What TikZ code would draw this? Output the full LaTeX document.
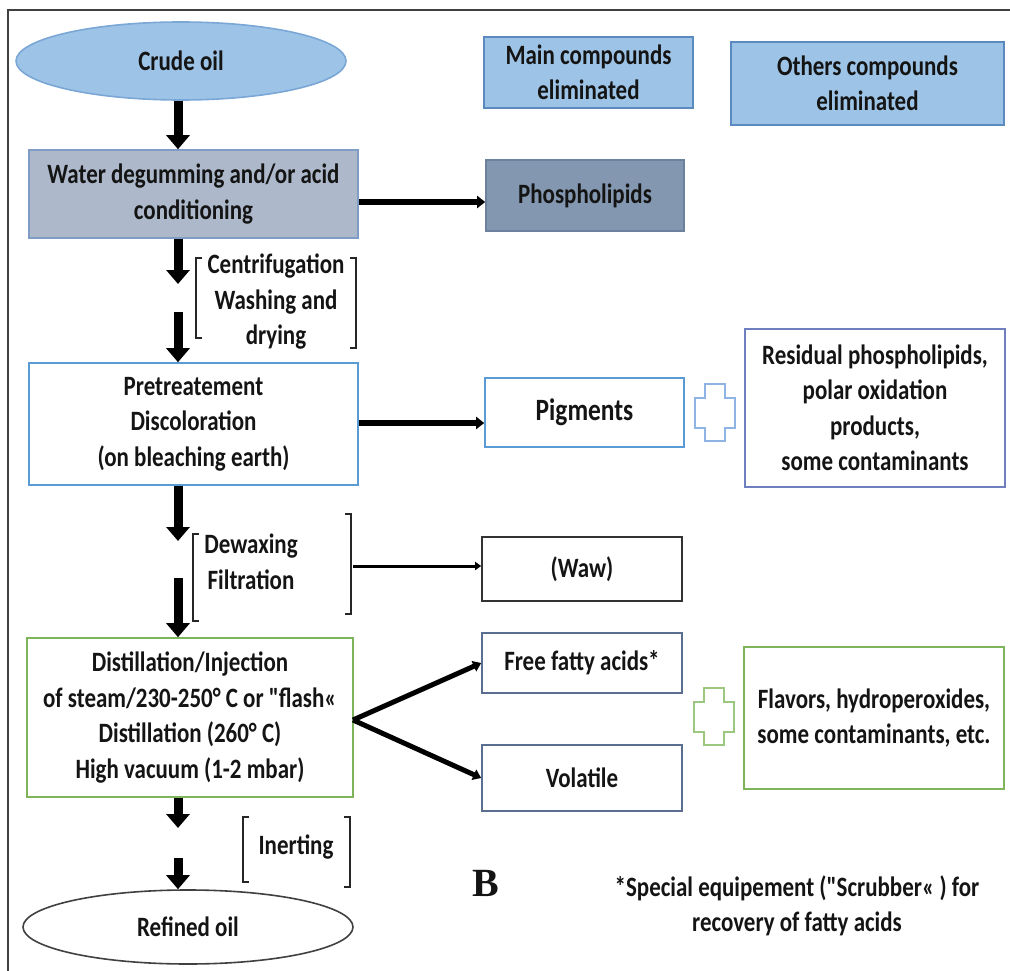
\documentclass[tikz,border=0pt]{standalone}
\usepackage{fontspec}
\setmainfont{Carlito}[FakeStretch=0.82, Ligatures=TeXOff]
\newfontfamily\serifbold{Liberation Serif}
\usetikzlibrary{shapes.geometric,arrows.meta,calc}
\definecolor{lblue}{HTML}{9DC3E6}
\definecolor{lblueedge}{HTML}{7BA7D7}
\definecolor{mblueedge}{HTML}{5A8AC0}
\definecolor{grayblue}{HTML}{ADB9CA}
\definecolor{grayblueedge}{HTML}{7E9CC6}
\definecolor{darkgb}{HTML}{8497B0}
\definecolor{darkgbedge}{HTML}{6C819E}
\definecolor{bluebord}{HTML}{5B9BD5}
\definecolor{plusblue}{HTML}{8DB4E2}
\definecolor{resedge}{HTML}{6F7FC0}
\definecolor{greenedge}{HTML}{7FB55A}
\definecolor{plusgreen}{HTML}{9CC77E}
\definecolor{slateedge}{HTML}{5A6F90}
\definecolor{txt}{HTML}{141414}
\newcommand\plusmark[3]{%
  \draw[#3, line width=2pt, fill=white]
    (#1-10,#2-28.5) -- (#1+10,#2-28.5) -- (#1+10,#2-15) -- (#1+20,#2-15)
    -- (#1+20,#2+15) -- (#1+10,#2+15) -- (#1+10,#2+28.5) -- (#1-10,#2+28.5)
    -- (#1-10,#2+15) -- (#1-20,#2+15) -- (#1-20,#2-15) -- (#1-10,#2-15) -- cycle;}
\begin{document}
\begin{tikzpicture}[x=1pt,y=-1pt,
  every node/.style={text=txt, font=\bfseries\fontsize{28}{35.5}\selectfont, align=center, inner sep=0pt},
  box/.style={draw, rectangle, line width=1.6pt},
  oval/.style={draw, ellipse, line width=1.6pt},
  bigarrow/.style={line width=9pt, -{Triangle[width=23pt,length=14pt]}},
  sidearrow/.style={line width=5.5pt, -{Triangle[width=12pt,length=8pt]}},
  forkarrow/.style={line width=5pt, -{Triangle[width=11pt,length=8pt]}},
  thinarrow/.style={line width=3pt, -{Triangle[width=8pt,length=6pt]}},
  brk/.style={draw=black!85, line width=1.5pt}
]
\useasboundingbox (0,0) rectangle (1010,971);
% frame
\draw[line width=2.5pt, black!75] (8,971) -- (8,10) -- (1010,10);

% nodes
\node[oval, fill=lblue, draw=lblueedge, minimum width=330, minimum height=78] (crude) at (181,61) {Crude oil};
\node[box, fill=lblue, draw=mblueedge, minimum width=209, minimum height=71] (main) at (588.5,72.5) {Main compounds\\eliminated};
\node[box, fill=lblue, draw=mblueedge, minimum width=273, minimum height=83] (others) at (867.5,83.5) {Others compounds\\eliminated};
\node[box, fill=grayblue, draw=grayblueedge, minimum width=329, minimum height=88] (water) at (193.5,194) {Water degumming and/or acid\\conditioning};
\node[box, fill=darkgb, draw=darkgbedge, minimum width=198, minimum height=71] (phospho) at (585,195.5) {Phospholipids};
\node[box, draw=bluebord, minimum width=329, minimum height=122] (pre) at (193.5,424) {Pretreatement\\Discoloration\\(on bleaching earth)};
\node[box, draw=bluebord, minimum width=199, minimum height=69, font=\bfseries\fontsize{31}{36}\selectfont] (pig) at (584.5,412.5) {Pigments};
\node[box, draw=resedge, minimum width=260, minimum height=158] (res) at (875,408) {Residual phospholipids,\\polar oxidation\\products,\\some contaminants};
\node[box, draw=black!80, minimum width=200, minimum height=64] (waw) at (582,569) {(Waw)};
\node[box, draw=greenedge, minimum width=326, minimum height=159] (dist) at (190,717.5) {Distillation/Injection\\of steam/230-250° C or "flash«\\Distillation (260° C)\\High vacuum (1-2 mbar)};
\node[box, draw=slateedge, minimum width=200, minimum height=60] (ffa) at (582,663) {Free fatty acids*};
\node[box, draw=slateedge, minimum width=200, minimum height=66] (vol) at (582,778) {Volatile};
\node[box, draw=greenedge, minimum width=260, minimum height=142] (flav) at (874,718) {Flavors, hydroperoxides,\\some contaminants, etc.};
\node[oval, draw=black!75, minimum width=330, minimum height=74] (refined) at (188,927) {Refined oil};

% bracket labels
\node (centri) at (276,302) {Centrifugation\\Washing and\\drying};
\node (dewax) at (251,562) {Dewaxing\\Filtration};
\node (inert) at (296,847) {Inerting};
\node[font=\serifbold\bfseries\fontsize{40}{44}\selectfont] (B) at (486,883) {B};
\node (note) at (797,906) {*Special equipement ("Scrubber« ) for\\recovery of fatty acids};

% brackets
\draw[brk] (202,258) -- (196,258) -- (196,338) -- (202,338);
\draw[brk] (350,258) -- (356,258) -- (356,348) -- (350,348);
\draw[brk] (199,534) -- (193,534) -- (193,621) -- (199,621);
\draw[brk] (345,514) -- (351,514) -- (351,614) -- (345,614);
\draw[brk] (249,817) -- (243,817) -- (243,882) -- (249,882);
\draw[brk] (344,817) -- (350,817) -- (350,887) -- (344,887);

% spine coordinates
\coordinate (spine) at (178,0);
\coordinate (a2end) at (178,284);
\coordinate (a3start) at (178,312);
\coordinate (a4end) at (178,541);
\coordinate (a5start) at (178,578);
\coordinate (a6end) at (178,828);
\coordinate (a7start) at (178,858);
\coordinate (dewaxout) at (353,566);
\coordinate (fork) at (353,720);

% main vertical arrows
\draw[bigarrow] (spine |- crude.south) -- (spine |- water.north);
\draw[bigarrow] (spine |- water.south) -- (a2end);
\draw[bigarrow] (a3start) -- (spine |- pre.north);
\draw[bigarrow] (spine |- pre.south) -- (a4end);
\draw[bigarrow] (a5start) -- (spine |- dist.north);
\draw[bigarrow] (spine |- dist.south) -- (a6end);
\draw[bigarrow] (a7start) -- (spine |- refined.north);

% side arrows
\draw[sidearrow] (water.east |- 0,202) -- (phospho.west |- 0,202);
\draw[sidearrow] (pre.east |- 0,423) -- (pig.west |- 0,423);
\draw[thinarrow] (dewaxout) -- (waw.west |- dewaxout);
\draw[forkarrow] (fork) -- (ffa.west);
\draw[forkarrow] (fork) -- (vol.west);

% plus signs
\plusmark{715}{412.5}{plusblue}
\plusmark{714}{716.5}{plusgreen}
\end{tikzpicture}
\end{document}
